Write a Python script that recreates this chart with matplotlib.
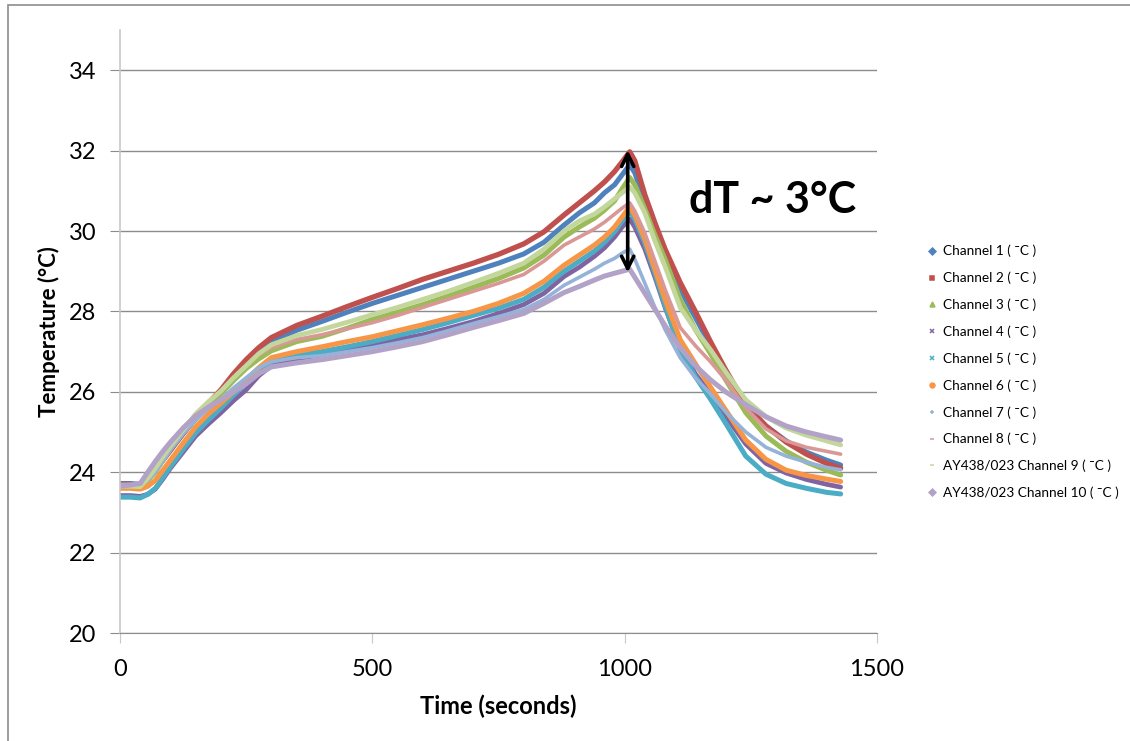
import matplotlib
matplotlib.use('Agg')
import matplotlib.pyplot as plt
from matplotlib.lines import Line2D
from matplotlib.patches import Rectangle

plt.rcParams['font.family'] = ['Lato', 'DejaVu Sans']

# time samples (s)
time_s = [0, 20, 40, 55, 70, 85, 100,
          125, 150, 175, 200, 225, 250, 275, 300,
          350, 400, 450, 500, 550, 600, 650, 700, 750, 800,
          840, 880, 910, 940, 960, 980, 995, 1010,
          1020, 1040, 1060, 1080, 1110, 1140, 1170, 1200, 1240, 1280, 1320, 1360, 1400, 1428]

ch1 = [23.72, 23.72, 23.70, 23.85, 24.05, 24.30, 24.55,
       24.95, 25.33, 25.67, 25.98, 26.35, 26.70, 27.00, 27.25,
       27.53, 27.75, 27.98, 28.20, 28.40, 28.60, 28.80, 29.00, 29.20, 29.43,
       29.72, 30.15, 30.45, 30.70, 30.95, 31.15, 31.40, 31.65,
       31.45, 30.70, 30.00, 29.40, 28.55, 27.85, 27.15, 26.50, 25.65, 25.15, 24.78, 24.50, 24.30, 24.18]
ch2 = [23.70, 23.70, 23.68, 23.82, 24.05, 24.30, 24.55,
       24.97, 25.35, 25.72, 26.05, 26.45, 26.80, 27.10, 27.35,
       27.65, 27.88, 28.12, 28.35, 28.57, 28.80, 29.00, 29.20, 29.42, 29.68,
       29.98, 30.40, 30.70, 31.00, 31.22, 31.48, 31.72, 31.97,
       31.75, 30.90, 30.20, 29.55, 28.72, 28.00, 27.25, 26.55, 25.68, 25.15, 24.75, 24.45, 24.22, 24.10]
ch3 = [23.65, 23.65, 23.63, 23.80, 24.00, 24.30, 24.58,
       25.00, 25.38, 25.68, 25.95, 26.28, 26.58, 26.82, 27.02,
       27.25, 27.38, 27.58, 27.80, 27.98, 28.17, 28.38, 28.60, 28.82, 29.08,
       29.40, 29.85, 30.10, 30.32, 30.52, 30.75, 31.05, 31.33,
       31.15, 30.55, 29.90, 29.30, 28.30, 27.55, 26.95, 26.30, 25.48, 24.90, 24.52, 24.25, 24.05, 23.93]
ch4 = [23.42, 23.42, 23.40, 23.45, 23.58, 23.83, 24.10,
       24.50, 24.90, 25.20, 25.48, 25.78, 26.05, 26.40, 26.65,
       26.82, 26.92, 27.05, 27.17, 27.30, 27.42, 27.58, 27.75, 27.95, 28.17,
       28.45, 28.87, 29.10, 29.37, 29.58, 29.85, 30.10, 30.30,
       30.10, 29.55, 28.85, 28.10, 27.10, 26.45, 25.95, 25.40, 24.70, 24.22, 23.98, 23.82, 23.70, 23.63]
ch5 = [23.38, 23.38, 23.36, 23.45, 23.60, 23.87, 24.14,
       24.57, 24.98, 25.30, 25.60, 25.92, 26.22, 26.52, 26.75,
       26.92, 27.00, 27.12, 27.25, 27.40, 27.55, 27.72, 27.90, 28.08, 28.30,
       28.60, 29.00, 29.25, 29.50, 29.72, 29.98, 30.25, 30.50,
       30.30, 29.70, 28.95, 28.15, 27.05, 26.38, 25.82, 25.22, 24.40, 23.95, 23.72, 23.60, 23.50, 23.46]
ch6 = [23.60, 23.60, 23.58, 23.65, 23.80, 24.05, 24.30,
       24.72, 25.13, 25.45, 25.72, 26.00, 26.30, 26.60, 26.85,
       27.00, 27.12, 27.25, 27.37, 27.52, 27.67, 27.83, 28.00, 28.20, 28.45,
       28.75, 29.15, 29.40, 29.65, 29.85, 30.10, 30.35, 30.60,
       30.40, 29.80, 29.05, 28.30, 27.30, 26.70, 26.12, 25.55, 24.80, 24.32, 24.05, 23.92, 23.83, 23.77]
ch7 = [23.70, 23.70, 23.68, 23.80, 24.00, 24.28, 24.55,
       24.95, 25.30, 25.58, 25.82, 26.10, 26.35, 26.60, 26.75,
       26.85, 26.90, 27.00, 27.10, 27.22, 27.35, 27.52, 27.70, 27.87, 28.05,
       28.30, 28.65, 28.85, 29.05, 29.20, 29.32, 29.45, 29.55,
       29.30, 28.70, 28.10, 27.55, 26.85, 26.35, 25.95, 25.50, 25.00, 24.62, 24.40, 24.25, 24.12, 24.06]
ch8 = [23.68, 23.68, 23.66, 23.88, 24.10, 24.38, 24.65,
       25.05, 25.45, 25.75, 26.00, 26.35, 26.65, 26.92, 27.10,
       27.30, 27.42, 27.57, 27.72, 27.90, 28.10, 28.30, 28.50, 28.70, 28.92,
       29.25, 29.65, 29.85, 30.05, 30.22, 30.42, 30.57, 30.70,
       30.50, 29.95, 29.25, 28.55, 27.60, 27.15, 26.75, 26.30, 25.60, 25.08, 24.78, 24.62, 24.52, 24.45]
ch9 = [23.65, 23.65, 23.64, 23.85, 24.10, 24.38, 24.65,
       25.05, 25.45, 25.75, 26.02, 26.35, 26.65, 26.95, 27.17,
       27.40, 27.55, 27.73, 27.92, 28.10, 28.30, 28.50, 28.72, 28.95, 29.20,
       29.55, 30.00, 30.25, 30.42, 30.60, 30.80, 30.95, 31.10,
       30.95, 30.45, 29.75, 29.12, 28.10, 27.55, 27.05, 26.50, 25.80, 25.38, 25.10, 24.92, 24.78, 24.68]
ch10 = [23.65, 23.68, 23.72, 24.00, 24.27, 24.52, 24.75,
        25.10, 25.40, 25.62, 25.80, 26.00, 26.20, 26.45, 26.62,
        26.72, 26.80, 26.90, 27.00, 27.12, 27.25, 27.42, 27.60, 27.77, 27.95,
        28.20, 28.47, 28.62, 28.78, 28.88, 28.95, 29.00, 29.05,
        28.85, 28.45, 28.05, 27.65, 27.10, 26.65, 26.30, 26.00, 25.68, 25.38, 25.15, 25.00, 24.88, 24.80]

series = [ch1, ch2, ch3, ch4, ch5, ch6, ch7, ch8, ch9, ch10]
labels = ['Channel 1 ( ¯C )', 'Channel 2 ( ¯C )', 'Channel 3 ( ¯C )', 'Channel 4 ( ¯C )',
          'Channel 5 ( ¯C )', 'Channel 6 ( ¯C )', 'Channel 7 ( ¯C )', 'Channel 8 ( ¯C )',
          'AY438/023 Channel 9 ( ¯C )', 'AY438/023 Channel 10 ( ¯C )']
colors = ['#4F81BD', '#C0504D', '#9BBB59', '#8064A2', '#4BACC6',
          '#F79646', '#95B3D9', '#D99795', '#C3D69B', '#B3A2C7']
markers = ['D', 's', '^', 'x', 'x', 'o', '+', '_', '_', 'D']
widths = [3.6, 3.8, 3.6, 3.4, 3.6, 3.6, 2.6, 2.6, 3.4, 3.6]

fig = plt.figure(figsize=(11.3, 7.41), dpi=100)
ax = fig.add_axes([0.1062, 0.1457, 0.6699, 0.8138])

for s, c, w in zip(series, colors, widths):
    ax.plot(time_s, s, color=c, lw=w, solid_capstyle='round', solid_joinstyle='round')

ax.set_xlim(0, 1500)
ax.set_ylim(20, 35)
ax.set_xticks([0, 500, 1000, 1500])
ax.set_yticks([20, 22, 24, 26, 28, 30, 32, 34])
ax.yaxis.grid(True, color='#8C8C8C', lw=1)
ax.set_axisbelow(True)
for sp in ['top', 'right']:
    ax.spines[sp].set_visible(False)
ax.spines['left'].set_color('#C8C8C8')
ax.spines['left'].set_linewidth(1.2)
ax.spines['bottom'].set_color('#8C8C8C')
ax.tick_params(axis='y', length=7, color='#8C8C8C', labelsize=17, pad=10)
ax.tick_params(axis='x', length=7, color='#C8C8C8', labelsize=17, pad=12)

ax.set_xlabel('Time (seconds)', fontsize=17, fontweight='bold', labelpad=10)
ax.set_ylabel('Temperature (°C)', fontsize=16, fontweight='bold', labelpad=6)

# dT arrow and text
ax.annotate('', xy=(1006, 32.08), xytext=(1006, 28.9),
            arrowprops=dict(arrowstyle='<->', color='black', lw=2.6, mutation_scale=22))
ax.text(1128, 30.78, 'dT ~ 3°C', fontsize=31, fontweight='bold', va='center', ha='left')

handles = [Line2D([], [], color=c, marker=m, linestyle='None', markersize=3.5, markeredgewidth=1.1)
           for c, m in zip(colors, markers)]
fig.legend(handles, labels, loc='center left', bbox_to_anchor=(0.81, 0.498), frameon=False,
           fontsize=9.8, labelspacing=1.05, handlelength=0.6, handletextpad=0.5)

fig.patches.append(Rectangle((8 / 1130, -0.1), 1.2, 0.9933 + 0.1, transform=fig.transFigure,
                             fill=False, edgecolor='#8C8C8C', lw=1.2))

fig.savefig('out.png', dpi=100)
